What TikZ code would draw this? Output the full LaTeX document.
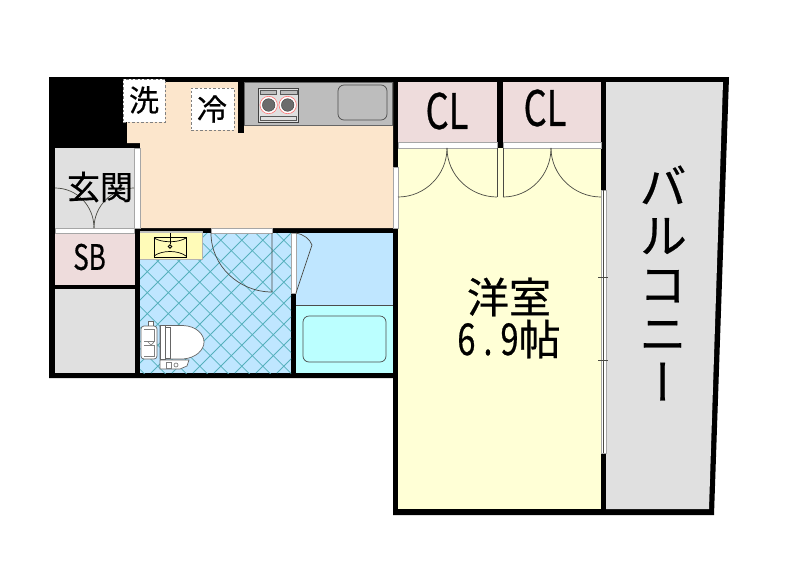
\documentclass[tikz,border=0pt]{standalone}
\usepackage{fontspec}
\setmainfont[FakeBold=0.5]{Noto Sans CJK JP}
\newfontfamily\narrowfont[FakeStretch=0.74,FakeBold=0.5]{Noto Sans CJK JP}
\newfontfamily\vertfont[RawFeature={+vert},FakeBold=0.5]{Noto Sans CJK JP}
\definecolor{kitchenc}{HTML}{FCE6CC}
\definecolor{pinkc}{HTML}{EEDCDC}
\definecolor{greyc}{HTML}{E0E0E0}
\definecolor{roomc}{HTML}{FFFFD6}
\definecolor{bathc}{HTML}{BFE6FF}
\definecolor{tubc}{HTML}{BBFFFF}
\definecolor{tilec}{HTML}{55B0BC}
\definecolor{counterc}{HTML}{BDBDBD}
\definecolor{vanityc}{HTML}{FFFBB8}
\definecolor{thinc}{HTML}{4A4A44}
\tikzset{
  wall/.style={fill=black,draw=none},
  strip/.style={fill=white,draw=gray!70,line width=.6pt},
  thin line/.style={draw=thinc,line width=.7pt},
  equip/.style={draw=gray!80!black,line width=.7pt,fill=white},
  label/.style={inner sep=0pt,text=black,align=center},
  tagbox/.style={fill=white,draw=gray,line width=.6pt,dash pattern=on 2.5pt off 2pt},
}
\begin{document}
\begin{tikzpicture}[x=1pt,y=-1pt]
\useasboundingbox (0,0) rectangle (800,576);
\fill[white] (0,0) rectangle (800,576);
% walls
\fill[wall] (49,77) -- (729,77) -- (714,515) -- (393,515) -- (393,378) -- (49,378) -- cycle;
% floors
\fill[kitchenc] (127,82) -- (393,82) -- (393,228) -- (140,228) -- (140,143) -- (127,143) -- cycle;
\fill[greyc] (55,148) rectangle (134,228);
\fill[pinkc] (55,233) rectangle (135,285);
\fill[greyc] (55,289) rectangle (135,373);
\fill[bathc] (140,233) rectangle (291,373);
\begin{scope}
  \clip (140,233) rectangle (291,373);
  \foreach \k in {-3,...,14} {
    \draw[tilec,line width=.8pt] ({46+21*\k},373) -- ++(200,-200);
  }
  \foreach \k in {-7,...,10} {
    \draw[tilec,line width=.8pt] ({68.6+21*\k},193) -- ++(200,200);
  }
\end{scope}
\fill[bathc] (296,233) rectangle (393,305);
\fill[tubc] (296,305) rectangle (393,373);
\draw[draw=gray!60!black,line width=.6pt] (296,305) -- (393,305);
\draw[draw=gray!60!black,fill=tubc,line width=.7pt,rounded corners=6pt] (303,316) rectangle (386,362);
\fill[pinkc] (398,82) rectangle (497,142);
\fill[pinkc] (503,82) rectangle (601,142);
\fill[roomc] (398,148) rectangle (601,509);
\fill[greyc] (606,82) -- (723,82) -- (709,509) -- (606,509) -- cycle;
% counter
\fill[counterc,draw=gray!80!black,line width=.6pt] (244,82) rectangle (392,125);
\draw[draw=gray!60!black,line width=.7pt,rounded corners=6pt] (338,85) rectangle (387,120);
\draw[fill=greyc,draw=gray!50!black,line width=.8pt] (258,88) rectangle (298,122);
\draw[fill=counterc,draw=gray!70!black,line width=.5pt] (260,90) rectangle (276,94);
\draw[fill=counterc,draw=gray!70!black,line width=.5pt] (280,90) rectangle (297,94);
\draw[fill=greyc,draw=gray!70!black,line width=.5pt] (260,116) rectangle (296,120.5);
\foreach \cx in {268.7,287.7} {
  \draw[draw=red!55!white,fill=white,line width=.6pt] (\cx,105) circle[radius=8.7pt];
  \fill[gray!85!black,draw=gray!50!black,line width=.4pt] (\cx,105) circle[radius=6.3pt];
}
\fill[wall] (238,82) rectangle (244,133);
% white strips
\draw[strip] (134,148) rectangle (140,228);
\draw[strip] (55,228) rectangle (134,233);
\draw[strip] (211,228) rectangle (272,233);
\draw[strip] (291,233) rectangle (296,293);
\draw[strip] (393,167) rectangle (398,228);
\draw[strip] (398,142) rectangle (497,148);
\draw[strip] (503,142) rectangle (601,148);
\draw[strip] (601,190) rectangle (606,453);
\draw[thin line] (603.5,190) -- (603.5,453);
\draw[thin line] (598,277) -- (608,277);
\draw[thin line] (598,360) -- (608,360);
% doors
\draw[thin line] (55,188) .. controls (77,188) and (94,206) .. (94,228);
\draw[thin line] (134,188) .. controls (112,188) and (94,206) .. (94,228);
\draw[thin line] (211,233) .. controls (211,266) and (239,292) .. (272,292) -- (272,233);
\draw[thin line] (296,293) -- (312,245) .. controls (310,239) and (303,234) .. (296,233);
\draw[thin line] (398,197) .. controls (425,197) and (447,175) .. (447,148);
\draw[thin line] (497,197) .. controls (470,197) and (447,175) .. (447,148);
\draw[thin line] (497,148) -- (497,197);
\draw[thin line] (503,148) -- (503,197);
\draw[thin line] (503,197) .. controls (530,197) and (551,175) .. (551,148);
\draw[thin line] (601,197) .. controls (574,197) and (551,175) .. (551,148);
% vanity
\fill[gray!50] (140,231) rectangle (202,233);
\fill[vanityc] (140,233) rectangle (202,259);
\draw[draw=gray!60,line width=.8pt] (140,259) -- (202,259) -- (202,231);
\draw[draw=black,line width=.9pt] (154,237) rectangle (186,257);
\draw[thin line,draw=black] (154,238) .. controls (162,243) and (178,243) .. (186,238);
\draw[thin line,draw=black] (154,256) .. controls (162,250) and (178,250) .. (186,256);
\draw[thin line,draw=black] (170,233) -- (170,244);
\draw[draw=black,fill=vanityc,line width=.8pt] (170,246.5) circle[radius=1.8pt];
% toilet
\draw[equip] (148,326) rectangle (153,321);
\draw[equip,rounded corners=3pt] (141,326) rectangle (157,359);
\draw[thin line,draw=gray] (144,329) -- (154,329) -- (154,341) -- (144,341);
\draw[thin line,draw=gray] (144,356) -- (154,356) -- (154,345) -- (144,345);
\draw[thin line,draw=gray] (148,342) -- (151,345) -- (154,342);
\draw[equip] (160,325.5) -- (183,325.5) .. controls (196,326) and (204,334) .. (204,342) .. controls (204,350) and (196,358) .. (183,359) -- (160,359) -- cycle;
\draw[equip] (160,325.5) rectangle (165,359);
\draw[equip] (165,327) rectangle (170,358);
\draw[equip] (160,360) -- (189,360) -- (187,366) -- (180,369) -- (160,369) -- cycle;
\draw[thin line,draw=gray] (166,362) rectangle (171,368);
\draw[thin line,draw=gray] (176,365) circle[radius=2pt];
% tags and labels
\node[tagbox,minimum width=42pt,minimum height=43pt,inner sep=0pt] (washbox) at (144,100.5) {};
\node[tagbox,minimum width=43pt,minimum height=42pt,inner sep=0pt] (coldbox) at (212.5,109) {};
\node[label,font=\fontsize{30}{30}\selectfont] (wash) at (144,100) {洗};
\node[label,font=\fontsize{30}{30}\selectfont] (cold) at (212,109) {冷};
\node[label,font=\fontsize{33}{33}\selectfont] (entry) at (100,187) {玄関};
\node[label,font=\narrowfont\fontsize{35}{35}\selectfont] (sb) at (89.5,257) {SB};
\node[label,font=\narrowfont\fontsize{49}{49}\selectfont] (cl1) at (447,111) {CL};
\node[label,font=\narrowfont\fontsize{49}{49}\selectfont] (cl2) at (545,108) {CL};
\node[label,font=\fontsize{42}{42}\selectfont] (room) at (509,318) {洋室\\{\narrowfont\fontsize{44}{42}\selectfont 6\kern8pt.\kern8pt 9}帖};
\node[label,font=\vertfont\fontsize{48}{49}\selectfont] (balcony) at (663,283) {バ\\ル\\コ\\ニ\\ー};
\end{tikzpicture}
\end{document}
